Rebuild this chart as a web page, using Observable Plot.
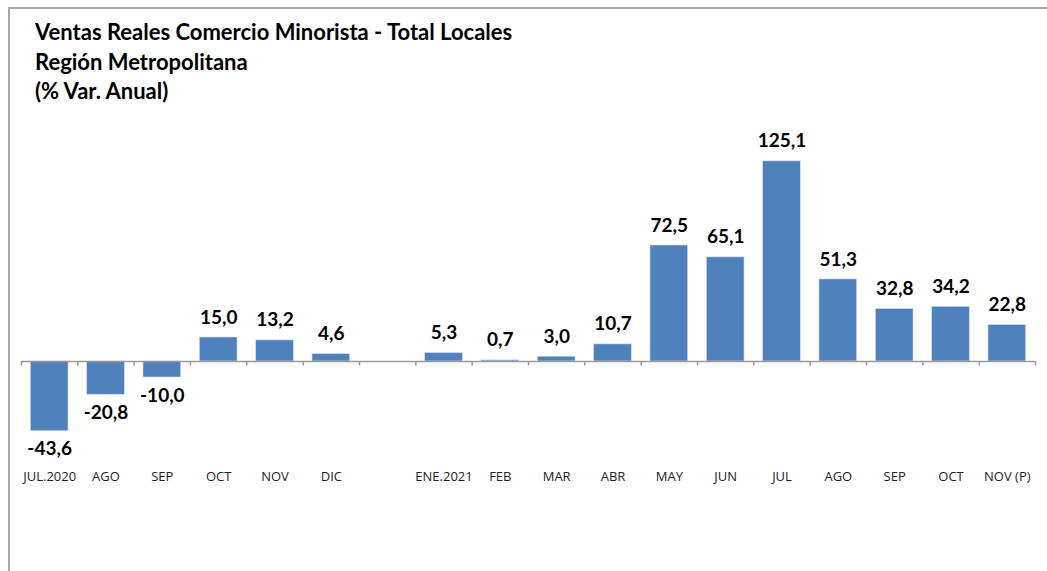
<!DOCTYPE html>
<html>
<head>
<meta charset="utf-8">
<script src="https://cdn.jsdelivr.net/npm/d3@7"></script>
<script src="https://cdn.jsdelivr.net/npm/@observablehq/plot@0.6"></script>
<style>
  html, body { margin: 0; padding: 0; background: #fff; }
  #wrap { position: relative; width: 1047px; height: 571px; overflow: hidden; }
  #frame { position: absolute; left: 8px; top: 7px; right: -10px; bottom: -10px;
           border-left: 2px solid #a6a6a6; border-top: 2px solid #a6a6a6; }
  #title { position: absolute; left: 35px; top: 17px; font-family: Lato, sans-serif;
           font-weight: bold; font-size: 22px; line-height: 29.5px; color: #000; }
  #chart { position: absolute; left: 0; top: 110px; }
</style>
</head>
<body>
<div id="wrap">
  <div id="frame"></div>
  <div id="title">Ventas Reales Comercio Minorista - Total Locales<br>Región Metropolitana<br>(% Var. Anual)</div>
  <div id="chart"></div>
</div>
<script>
const slots = ["2020-07","2020-08","2020-09","2020-10","2020-11","2020-12","gap",
               "2021-01","2021-02","2021-03","2021-04","2021-05","2021-06","2021-07",
               "2021-08","2021-09","2021-10","2021-11"];
const tickLabels = ["JUL.2020","AGO","SEP","OCT","NOV","DIC","",
                    "ENE.2021","FEB","MAR","ABR","MAY","JUN","JUL",
                    "AGO","SEP","OCT","NOV (P)"];
const months = ["2020-07","2020-08","2020-09","2020-10","2020-11","2020-12",
                "2021-01","2021-02","2021-03","2021-04","2021-05","2021-06","2021-07",
                "2021-08","2021-09","2021-10","2021-11"];
const values = [-43.6,-20.8,-10.0,15.0,13.2,4.6,
                5.3,0.7,3.0,10.7,72.5,65.1,125.1,51.3,32.8,34.2,22.8];

const data = months.map((m, i) => ({month: m, value: values[i]}));
const labelOf = new Map(slots.map((s, i) => [s, tickLabels[i]]));
const fmt = v => v.toFixed(1).replace(".", ",");

const W = 1047, H = 461, mL = 21, mR = 12;
const step = (W - mL - mR) / slots.length;

const chart = Plot.plot({
  width: W,
  height: H,
  marginLeft: mL,
  marginRight: mR,
  marginTop: 11,
  marginBottom: 105,
  style: {background: "transparent", overflow: "visible"},
  x: {domain: slots, paddingInner: 0.33, paddingOuter: 0.165, round: false, label: null},
  y: {domain: [-65.625, 150], axis: null},
  marks: [
    Plot.barY(data, {x: "month", y: "value", fill: "#4f81bd", stroke: "#d7e2ef", strokeWidth: 0.6}),
    Plot.ruleY([0], {stroke: "#9a9a9a", strokeWidth: 1.5}),
    Plot.ruleX(slots, {x: d => d, y1: 0, y2: -2.8, dx: -step / 2, stroke: "#9a9a9a", strokeWidth: 1.5}),
    Plot.ruleX(slots.slice(-1), {x: d => d, y1: 0, y2: -2.8, dx: step / 2, stroke: "#9a9a9a", strokeWidth: 1.5}),
    Plot.text(data.filter(d => d.value >= 0), {x: "month", y: "value", text: d => fmt(d.value),
      dy: -20, fontSize: 19, fontWeight: "bold", fill: "#000", fontFamily: "Lato, sans-serif"}),
    Plot.text(data.filter(d => d.value < 0), {x: "month", y: "value", text: d => fmt(d.value),
      dy: 18, fontSize: 19, fontWeight: "bold", fill: "#000", fontFamily: "Lato, sans-serif"}),
    Plot.axisX({anchor: "bottom", tickSize: 0, tickPadding: 5, tickFormat: d => labelOf.get(d),
      fontSize: 13, fontFamily: "'Open Sans', sans-serif", fill: "#222", label: null})
  ]
});
document.getElementById("chart").appendChild(chart);
</script>
</body>
</html>
